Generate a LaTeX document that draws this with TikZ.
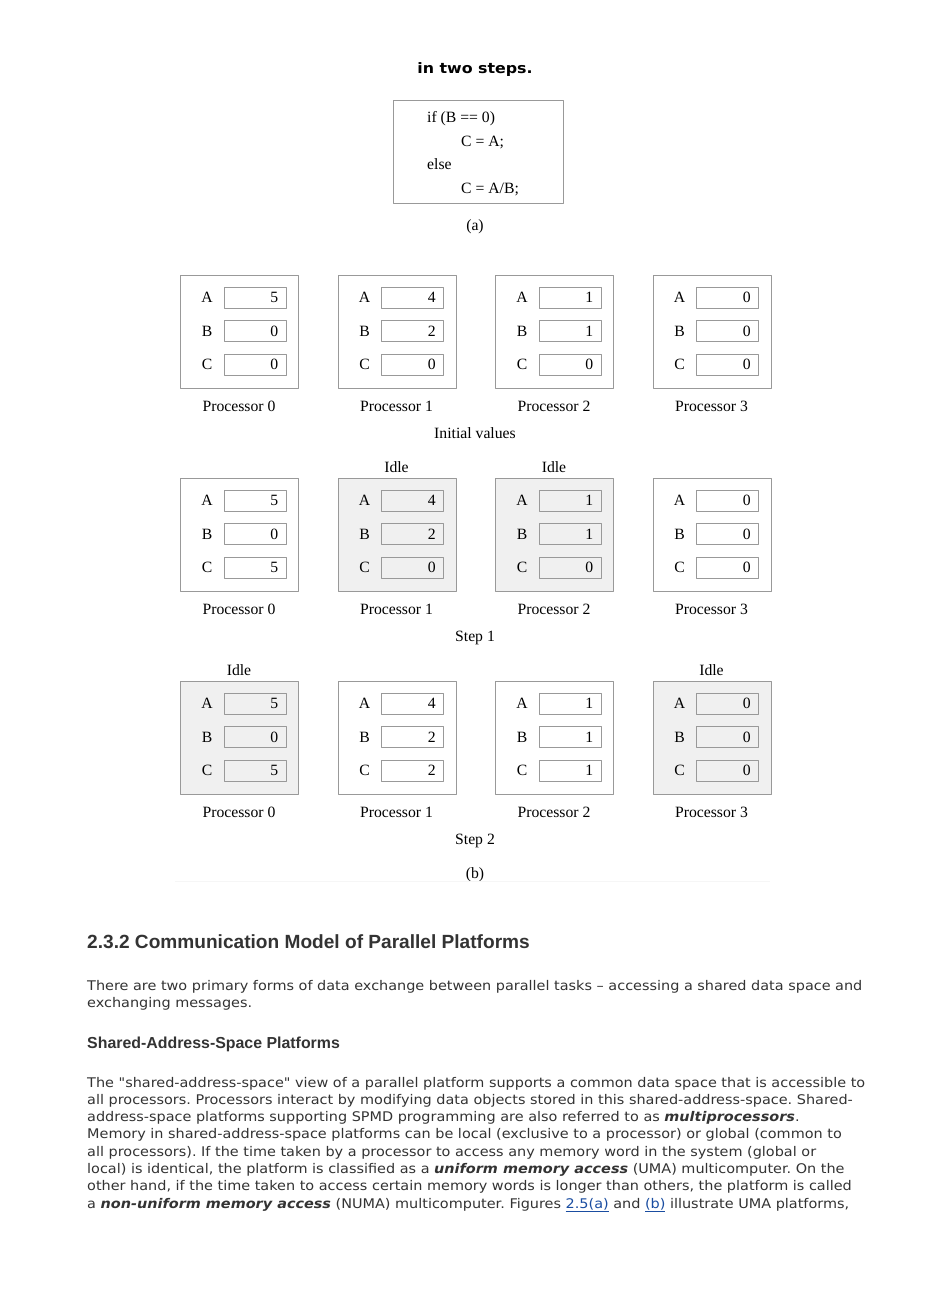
\documentclass[tikz,border=0pt]{standalone}
\usepackage{fontspec}
\setmainfont{Liberation Serif}
\newfontfamily\pagefont[FakeStretch=1.085]{DejaVu Sans}
\newfontfamily\titlefont[FakeStretch=1.1]{DejaVu Sans}
\newfontfamily\headfont{Liberation Sans}
\usetikzlibrary{positioning}
\definecolor{boxgray}{HTML}{999999}
\definecolor{idlegray}{HTML}{F0F0F0}
\definecolor{pagetext}{HTML}{333333}
\definecolor{linkblue}{HTML}{1A4DA1}
\newcommand{\weblink}[1]{\textcolor{linkblue}{\underline{#1}}}
\def\idlename{idlegray}
\frenchspacing

\begin{document}
\begin{tikzpicture}[x=1pt, y=-1pt, line join=round,
    procbox/.style={draw=boxgray, line width=0.8pt, minimum width=118pt, minimum height=113pt, inner sep=0pt, anchor=north west},
    cellbox/.style={draw=boxgray, line width=0.7pt, minimum width=62pt, minimum height=21pt, inner sep=0pt},
    figtext/.style={font=\fontsize{15.7}{18}\selectfont, inner sep=0pt},
    bodyline/.style={font=\pagefont\fontsize{13.3}{16}\selectfont, text=pagetext, anchor=base west, inner sep=0pt}]

    \useasboundingbox[fill=white] (0,0) rectangle (952,1289);

    % part (a)
    \node[font=\titlefont\bfseries\fontsize{14.4}{16}\selectfont, anchor=base, inner sep=0pt] (title) at (475,74) {in two steps.};
    \node[draw=boxgray, line width=0.8pt, minimum width=170pt, minimum height=103pt, anchor=north west, inner sep=0pt] (code) at (393,100) {};
    \node[figtext, anchor=base west] (code1) at (427,123) {if (B == 0)};
    \node[figtext, anchor=base west] (code2) at (461,147) {C = A;};
    \node[figtext, anchor=base west] (code3) at (427,170) {else};
    \node[figtext, anchor=base west] (code4) at (461,194) {C = A/B;};
    \node[figtext, anchor=base] (capa) at (475,231) {(a)};

    % part (b)
    \foreach \row/\top/\step in {0/275/Initial values, 1/478/Step 1, 2/681/Step 2}
        \node[figtext, anchor=base] (step\row) at (475,\top+163) {\step};

    \foreach \col/\row/\a/\b/\c/\shade in {
        0/0/5/0/0/white, 1/0/4/2/0/white, 2/0/1/1/0/white, 3/0/0/0/0/white,
        0/1/5/0/5/white, 1/1/4/2/0/idlegray, 2/1/1/1/0/idlegray, 3/1/0/0/0/white,
        0/2/5/0/5/idlegray, 1/2/4/2/2/white, 2/2/1/1/1/white, 3/2/0/0/0/idlegray}
    {
        \pgfmathsetmacro\px{180+157.5*\col}
        \pgfmathsetmacro\py{275+203*\row}
        \node[procbox, fill=\shade] (p\row\col) at (\px,\py) {};
        \node[figtext, anchor=base] (name\row\col) at (\px+59,\py+136) {Processor \col};
        \ifx\shade\idlename
            \node[figtext, anchor=base] (idle\row\col) at (\px+59,\py-6) {Idle};
        \fi
        \foreach \reg/\val [count=\k from 0] in {A/\a, B/\b, C/\c}
        {
            \node[figtext] (lab\row\col\reg) at (\px+27,\py+22.5+33.5*\k) {\reg};
            \node[cellbox, fill=\shade] (cell\row\col\reg) at (\px+75,\py+22.5+33.5*\k) {};
            \node[figtext, anchor=east] (val\row\col\reg) at ([xshift=-8pt]cell\row\col\reg.east) {\val};
        }
    }
    \node[figtext, anchor=base] (capb) at (475,878) {(b)};
    \draw[gray!7] (175,881) -- (770,881);

    % page text
    \node[font=\headfont\bfseries\fontsize{19.1}{21}\selectfont, text=pagetext, anchor=base west, inner sep=0pt] (head) at (87,948) {2.3.2 Communication Model of Parallel Platforms};
    \node[bodyline] (intro0) at (87,990) {There are two primary forms of data exchange between parallel tasks \textendash{} accessing a shared data space and};
    \node[bodyline] (intro1) at (87,1007) {exchanging messages.};
    \node[font=\headfont\bfseries\fontsize{15.9}{18}\selectfont, text=pagetext, anchor=base west, inner sep=0pt] (subhead) at (87,1048) {Shared-Address-Space Platforms};
    \foreach \txt [count=\i from 0] in {
        {The "shared-address-space" view of a parallel platform supports a common data space that is accessible to},
        {all processors. Processors interact by modifying data objects stored in this shared-address-space. Shared-},
        {address-space platforms supporting SPMD programming are also referred to as \textbf{\textit{multiprocessors}}.},
        {Memory in shared-address-space platforms can be local (exclusive to a processor) or global (common to},
        {all processors). If the time taken by a processor to access any memory word in the system (global or},
        {local) is identical, the platform is classified as a \textbf{\textit{uniform memory access}} (UMA) multicomputer. On the},
        {other hand, if the time taken to access certain memory words is longer than others, the platform is called},
        {a \textbf{\textit{non-uniform memory access}} (NUMA) multicomputer. Figures \weblink{2.5(a)} and \weblink{(b)} illustrate UMA platforms,}}
        \node[bodyline] (para\i) at (87,{1087+17.3*\i}) {\txt};
\end{tikzpicture}
\end{document}
